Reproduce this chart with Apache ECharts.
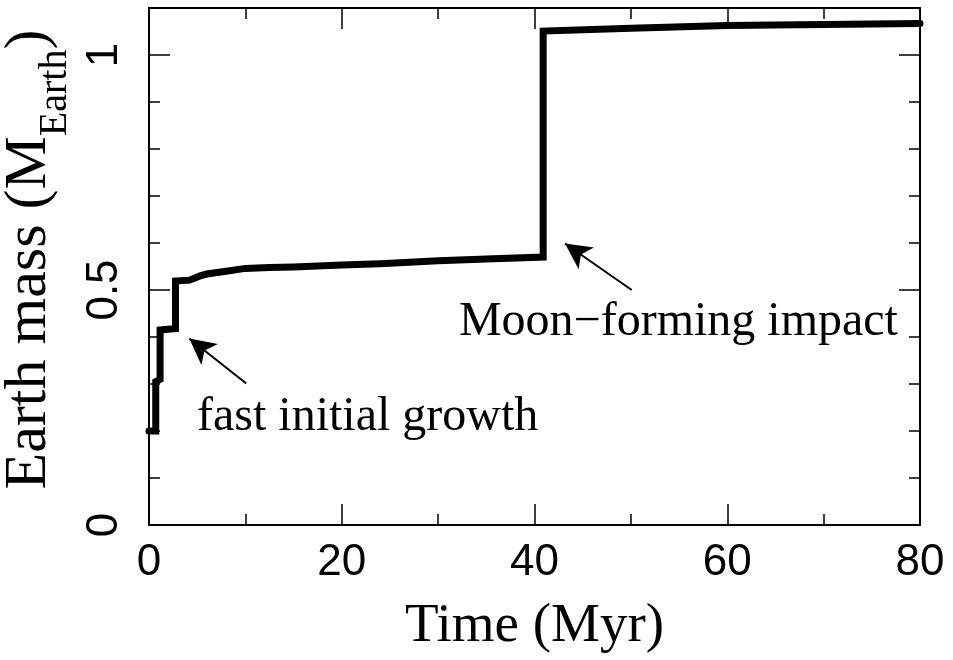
<!DOCTYPE html>
<html><head><meta charset="utf-8">
<script src="https://cdn.jsdelivr.net/npm/echarts@6/dist/echarts.min.js"></script>
<style>html,body{margin:0;padding:0;background:#fff}#c{width:953px;height:660px}</style>
</head><body><div id="c"></div>
<script>
// Data
const timeMyr   = [0, 0.7, 0.7, 1.15, 1.15, 2.75, 2.75, 4.2, 5.3, 6, 8, 10, 12.5, 15, 20, 24, 24.2, 30, 35, 40.9, 40.9, 50, 60, 70, 80];
const earthMass = [0.2, 0.2, 0.305, 0.31, 0.415, 0.418, 0.519, 0.521, 0.530, 0.534, 0.540, 0.546, 0.548, 0.549, 0.553, 0.556, 0.558, 0.562, 0.566, 0.570, 1.051, 1.057, 1.063, 1.065, 1.067];

const xTickValues = [0, 20, 40, 60, 80];
const yTickValues = [0, 0.5, 1];

// Annotations (data coordinates)
const annotationTexts = ['fast initial growth', 'Moon\u2212forming impact'];
const annotationTextPos = [[4.98, 0.228], [32.16, 0.432]];
const arrowTails = [[10.09, 0.301], [50.09, 0.5]];
const arrowTips  = [[4.18, 0.397], [43.16, 0.599]];

const seriesData = timeMyr.map((t, i) => [t, earthMass[i]]);

const black = '#000';
const tickFont = 'Liberation Sans';
const serifFont = 'Liberation Serif';

function xAxisDef(pos, withLabels) {
  return {
    type: 'value', min: xTickValues[0], max: xTickValues[xTickValues.length - 1], interval: 20,
    position: pos,
    axisLine: { show: true, onZero: false, lineStyle: { color: black, width: 2 } },
    axisTick: { show: true, inside: true, length: 21, lineStyle: { color: black, width: 1.5 } },
    minorTick: { show: true, splitNumber: 2, length: 11, lineStyle: { color: black, width: 1.5 } },
    splitLine: { show: false },
    axisLabel: { show: withLabels, margin: 16, fontSize: 44, fontFamily: tickFont, color: black },
    name: withLabels ? 'Time (Myr)' : '',
    nameLocation: 'middle', nameGap: 74,
    nameTextStyle: { fontSize: 55, fontFamily: serifFont, color: black }
  };
}

function yAxisMinor(pos) {
  return {
    type: 'value', min: 0, max: 1.1, interval: 0.1, position: pos,
    axisLine: { show: true, onZero: false, lineStyle: { color: black, width: 2 } },
    axisTick: { show: true, inside: true, length: 11, lineStyle: { color: black, width: 1.5 } },
    splitLine: { show: false },
    axisLabel: { show: false }
  };
}
function yAxisMajor(pos, withLabels) {
  const ax = {
    type: 'value', min: 0, max: 1.1, interval: 0.5, position: pos,
    axisLine: { show: false, onZero: false },
    axisTick: { show: true, inside: true, length: 21, lineStyle: { color: black, width: 1.5 } },
    splitLine: { show: false },
    axisLabel: { show: withLabels, showMaxLabel: false, rotate: 90, margin: 22, fontSize: 44, fontFamily: tickFont, color: black,
      formatter: v => (yTickValues.indexOf(v) >= 0 ? String(v) : '') }
  };
  if (withLabels) {
    ax.name = '{m|Earth mass (M}{s|Earth}{m|)}';
    ax.nameLocation = 'middle';
    ax.nameRotate = 90;
    ax.nameGap = 70;
    ax.nameTextStyle = {
      color: black, fontFamily: serifFont, fontSize: 60,
      padding: [0, 0, 0, 14],
      rich: {
        m: { fontSize: 60, fontFamily: serifFont, color: black, lineHeight: 60 },
        s: { fontSize: 40, fontFamily: serifFont, color: black, height: 40, lineHeight: 92, verticalAlign: 'bottom', padding: [52, 0, 0, 0] }
      }
    };
  }
  return ax;
}

const chart = echarts.init(document.getElementById('c'), null, { renderer: 'canvas' });
chart.setOption({
  animation: false,
  backgroundColor: '#fff',
  grid: { left: 149, right: 33, top: 8, bottom: 135, containLabel: false, outerBoundsMode: 'none' },
  xAxis: [xAxisDef('bottom', true), xAxisDef('top', false)],
  yAxis: [yAxisMinor('left'), yAxisMajor('left', true), yAxisMinor('right'), yAxisMajor('right', false)],
  series: [{
    type: 'line',
    xAxisIndex: 0, yAxisIndex: 0,
    data: seriesData,
    showSymbol: false, symbol: 'none',
    clip: false,
    lineStyle: { color: black, width: 7, cap: 'round', join: 'miter' },
    silent: true,
    markLine: {
      silent: true, animation: false,
      symbol: ['none', 'arrow'], symbolSize: [20, 26],
      lineStyle: { color: black, width: 2, type: 'solid' },
      label: { show: false },
      data: arrowTails.map((t, i) => [{ coord: t }, { coord: arrowTips[i] }])
    },
    markPoint: {
      silent: true, animation: false,
      symbol: 'circle', symbolSize: 0,
      itemStyle: { color: 'rgba(0,0,0,0)' },
      label: { show: true, position: 'right', distance: 0, formatter: '{b}', fontSize: 48, fontFamily: serifFont, color: black },
      data: annotationTexts.map((txt, i) => ({ name: txt, coord: annotationTextPos[i], value: 0 }))
    }
  }]
});
</script></body></html>
